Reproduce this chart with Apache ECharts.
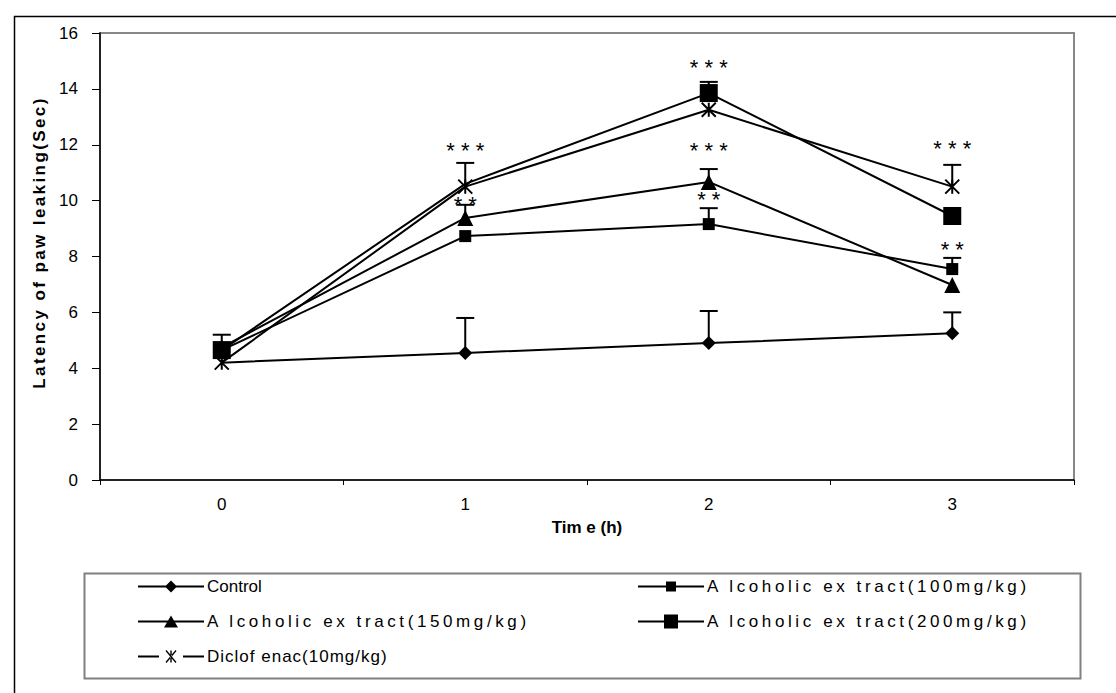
<!DOCTYPE html>
<html><head><meta charset="utf-8">
<script src="https://cdn.jsdelivr.net/npm/echarts@6/dist/echarts.min.js"></script>
<style>html,body{margin:0;padding:0;background:#fff}#c{width:1116px;height:693px}</style>
</head><body><div id="c"></div>
<script>
const categories = ['0', '1', '2', '3'];
const seriesNames = ['Control', 'A lcoholic ex tract(100mg/kg)', 'A lcoholic ex tract(150mg/kg)', 'A lcoholic ex tract(200mg/kg)', 'Diclof enac(10mg/kg)'];
const control   = [4.2, 4.55, 4.9, 5.25];
const ext100    = [4.65, 8.73, 9.16, 7.55];
const ext150    = [4.75, 9.38, 10.67, 6.98];
const ext200    = [4.65, 10.6, 13.85, 9.45];
const diclo     = [4.2, 10.5, 13.25, 10.5];
// upper ends of error bars (null = no bar drawn)
const controlTop = [null, 5.8, 6.05, 6.0];
const ext100Top  = [null, null, 9.73, 7.95];
const ext150Top  = [5.2, 9.85, 11.13, null];
const ext200Top  = [null, null, 14.25, null];
const dicloTop   = [null, 11.35, null, 11.28];
// markers hidden under other marks in the original
const hiddenMarker = {0: [0], 3: [1]};
// significance labels: [category position, y value, text]
const stars = [
  [1, 11.8, '* * *'], [1.05, 9.85, '* *'],
  [1.95, 14.78, '* * *'], [2, 11.8, '* * *'], [1.9, 10.05, '* *'],
  [2.955, 11.85, '* * *'], [3, 8.25, '* *']
];
const yTicks = [0, 2, 4, 6, 8, 10, 12, 14, 16];

const FONT = 'Liberation Sans, Arial, sans-serif';
const crossPath = 'path://M0,0L20,20M20,0L0,20M10,0L10,20';
const symbols = ['diamond', 'rect', 'triangle', 'rect', crossPath];
const symSizes = [14, 12, 16, 18, 14];
const values = [control, ext100, ext150, ext200, diclo];
const tops = [controlTop, ext100Top, ext150Top, ext200Top, dicloTop];

// legend icons (line + marker) in a 66x16 box
const box = 'M0,0h0.01v0.01zM66,16h-0.01v-0.01z';
const lineFull = 'M0,7H66V9H0Z';
const legendIcons = [
  'path://' + box + lineFull + 'M33,2L39,8L33,14L27,8Z',
  'path://' + box + lineFull + 'M28,3H38V13H28Z',
  'path://' + box + lineFull + 'M33,2L40,14L26,14Z',
  'path://' + box + lineFull + 'M26,1H40V15H26Z',
  'path://' + box + 'M0,7H21V9H0ZM45,7H66V9H45Z' +
    'M27.5,2.5L28.5,1.5L38.5,13.5L37.5,14.5Z' +
    'M38.5,2.5L37.5,1.5L27.5,13.5L28.5,14.5Z' +
    'M32.3,2H33.7V14H32.3Z'
];

const series = [];
values.forEach((arr, i) => {
  const hid = hiddenMarker[i] || [];
  series.push({
    name: seriesNames[i], type: 'line', z: 3 + i,
    data: arr.map((v, k) => hid.includes(k) ? {value: v, symbol: 'none'} : v),
    symbol: symbols[i], symbolSize: symSizes[i],
    showAllSymbol: true,
    lineStyle: {color: '#000', width: 2},
    itemStyle: i === 4 ? {color: '#000', borderColor: '#000', borderWidth: 2} : {color: '#000', borderWidth: 0},
    emphasis: {disabled: true}, animation: false
  });
});
values.forEach((arr, i) => {
  const d = [];
  arr.forEach((v, k) => { if (tops[i][k] != null) d.push([k, v, tops[i][k]]); });
  series.push({
    type: 'custom', z: 2, animation: false, silent: true,
    encode: {x: 0, y: [1, 2]},
    data: d,
    renderItem: (params, api) => {
      const p0 = api.coord([api.value(0), api.value(1)]);
      const p1 = api.coord([api.value(0), api.value(2)]);
      const st = {stroke: '#000', lineWidth: 2};
      return {type: 'group', children: [
        {type: 'line', shape: {x1: p0[0], y1: p0[1], x2: p1[0], y2: p1[1]}, style: st},
        {type: 'line', shape: {x1: p1[0] - 9, y1: p1[1], x2: p1[0] + 9, y2: p1[1]}, style: st}
      ]};
    }
  });
});
series.push({
  type: 'scatter', symbol: 'circle', symbolSize: 1, z: 10, silent: true, animation: false,
  itemStyle: {opacity: 0},
  data: stars.map(s => ({value: [s[0], s[1]], label: {formatter: s[2]}})),
  label: {show: true, position: 'inside', color: '#000', fontSize: 22, fontFamily: FONT, opacity: 1}
});

const legendText = {color: '#000', fontSize: 17, fontFamily: FONT, padding: [0, 0, 0, -2]};
const chart = echarts.init(document.getElementById('c'), null, {renderer: 'svg'});
chart.setOption({
  backgroundColor: '#fff',
  animation: false,
  grid: {left: 100, top: 33, right: 42, bottom: 213, show: true, borderColor: '#888', borderWidth: 2, containLabel: false},
  xAxis: {
    type: 'category', data: categories, boundaryGap: true,
    axisLine: {lineStyle: {color: '#000', width: 1.5}},
    axisTick: {show: true, interval: 0, length: 5, lineStyle: {color: '#000'}},
    axisLabel: {color: '#000', fontSize: 17, fontFamily: FONT, margin: 16},
    name: 'Tim e (h)', nameLocation: 'middle', nameGap: 39,
    nameTextStyle: {color: '#000', fontSize: 17, fontWeight: 'bold', fontFamily: FONT}
  },
  yAxis: {
    type: 'value', min: 0, max: 16, interval: 2,
    axisLine: {show: true, lineStyle: {color: '#000', width: 1.5}},
    axisTick: {show: true, length: 8, lineStyle: {color: '#000'}},
    splitLine: {show: false},
    axisLabel: {color: '#000', fontSize: 17, fontFamily: FONT, margin: 22,
      formatter: v => yTicks.includes(v) ? String(v) : ''},
    name: 'Latency of paw leaking(Sec)', nameLocation: 'middle', nameGap: 51,
    nameTextStyle: {color: '#000', fontSize: 17, fontWeight: 'bold', fontFamily: FONT, padding: [0, 0, 0, 28]}
  },
  legend: [
    {left: 133, top: 573, orient: 'vertical', itemGap: 18, itemWidth: 66, itemHeight: 16,
     data: [0, 2, 4].map(k => ({name: seriesNames[k], icon: legendIcons[k]})),
     itemStyle: {color: '#000', borderWidth: 0},
     textStyle: legendText, selectedMode: false},
    {left: 633, top: 573, orient: 'vertical', itemGap: 18, itemWidth: 66, itemHeight: 16,
     data: [1, 3].map(k => ({name: seriesNames[k], icon: legendIcons[k]})),
     itemStyle: {color: '#000', borderWidth: 0},
     textStyle: legendText, selectedMode: false}
  ],
  graphic: [
    {type: 'rect', left: 12, top: 14, shape: {width: 1200, height: 800}, style: {fill: 'none', stroke: '#000', lineWidth: 1.5}, silent: true, z: -1},
    {type: 'rect', left: 82, top: 571, shape: {width: 996, height: 105}, style: {fill: 'none', stroke: '#808080', lineWidth: 2}, silent: true, z: -1}
  ],
  series: series
});

// the original typesetting spreads some texts out; mimic with letter spacing
const spacing = {
  'A lcoholic ex tract': '3.6px',
  'Diclof enac': '1px',
  'Latency of paw leaking': '2.4px'
};
function applySpacing() {
  document.querySelectorAll('#c text').forEach(t => {
    const s = t.textContent || '';
    for (const key in spacing) {
      if (s.indexOf(key) === 0) t.setAttribute('letter-spacing', spacing[key]);
    }
  });
}
applySpacing();
chart.on('finished', applySpacing);
setTimeout(applySpacing, 50);
</script></body></html>
